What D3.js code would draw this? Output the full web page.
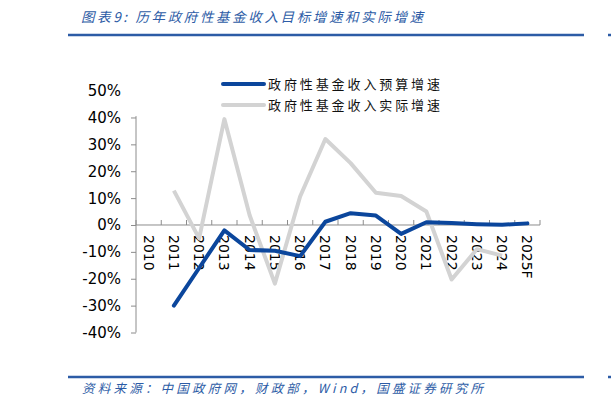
<html>
<head>
<meta charset="utf-8">
<title>历年政府性基金收入目标增速和实际增速</title>
<script src="https://d3js.org/d3.v7.min.js"></script>
<style>
  body { margin: 0; background: #fff; }
</style>
</head>
<body>
<script>
// data (percent)
var years = ["2010","2011","2012","2013","2014","2015","2016","2017","2018","2019","2020","2021","2022","2023","2024","2025F"];
var budgetGrowth = [null, -30, -16, -2, -9.3, -9.6, -11.6, 1.2, 4.4, 3.5, -3.3, 1.0, 0.7, 0.3, 0.1, 0.6];
var actualGrowth = [null, 12.8, -5, 39.4, 3.6, -21.8, 10.6, 32, 23, 12, 10.8, 5, -20.3, -9, -11.4, null];
var yTicks = [-40, -30, -20, -10, 0, 10, 20, 30, 40, 50];
var seriesNames = ["政府性基金收入预算增速", "政府性基金收入实际增速"];

var width = 611, height = 408;
var blue = "#0b469c", grey = "#d3d3d3", axisCol = "#8c8c8c", headBlue = "#2d5ca6";

var svg = d3.select("body").append("svg")
  .attr("width", width).attr("height", height);

// header
svg.append("text")
  .attr("x", 81).attr("y", 22)
  .attr("fill", headBlue)
  .attr("textLength", 342).attr("lengthAdjust", "spacing")
  .style("font-family", "'Noto Sans CJK SC', sans-serif")
  .style("font-size", "13.5px").style("font-style", "italic")
  .text("图表9:  历年政府性基金收入目标增速和实际增速");
svg.append("line").attr("x1", 68).attr("x2", 584).attr("y1", 35).attr("y2", 35)
  .attr("stroke", headBlue).attr("stroke-width", 2.5);
svg.append("line").attr("x1", 608).attr("x2", 611).attr("y1", 35).attr("y2", 35)
  .attr("stroke", headBlue).attr("stroke-width", 2.5);

// footer
svg.append("line").attr("x1", 68).attr("x2", 584).attr("y1", 377).attr("y2", 377)
  .attr("stroke", headBlue).attr("stroke-width", 2.5);
svg.append("line").attr("x1", 608).attr("x2", 611).attr("y1", 377).attr("y2", 377)
  .attr("stroke", headBlue).attr("stroke-width", 2.5);
svg.append("text")
  .attr("x", 82).attr("y", 393)
  .attr("fill", headBlue)
  .attr("textLength", 401).attr("lengthAdjust", "spacing")
  .style("font-family", "'Noto Sans CJK SC', sans-serif")
  .style("font-size", "12.5px").style("font-style", "italic")
  .text("资料来源：中国政府网，财政部，Wind，国盛证券研究所");

// scales
var x = d3.scaleBand().domain(years).range([136, 540]).padding(0);
var y = d3.scaleLinear().domain([-40, 50]).range([332.5, 90.6]);
var cx = function(d, i) { return x(years[i]) + x.bandwidth() / 2; };

// y axis
var yAxis = d3.axisLeft(y)
  .tickValues(yTicks.filter(function(d){ return d <= 40; }))
  .tickSize(5).tickFormat("");
var gy = svg.append("g").attr("transform", "translate(136,0)").call(yAxis);
gy.select(".domain").attr("d", "M0," + y(40.5) + "V" + y(-40));
gy.selectAll("line").attr("stroke", axisCol);
gy.select(".domain").attr("stroke", axisCol);

svg.selectAll(".ylab").data(yTicks).enter().append("text")
  .attr("class", "ylab")
  .attr("x", 121).attr("y", function(d){ return y(d); })
  .attr("dy", "0.36em")
  .attr("text-anchor", "end")
  .style("font-family", "'DejaVu Sans', sans-serif")
  .style("font-size", "15px").attr("fill", "#000")
  .text(function(d){ return d + "%"; });

// x axis at zero
var xAxis = d3.axisBottom(x).tickSize(0).tickFormat("");
var gx = svg.append("g").attr("transform", "translate(0," + y(0) + ")").call(xAxis);
gx.select(".domain").attr("stroke", axisCol).attr("d", "M136,0H540");
var tickPos = years.map(function(d){ return x(d); }).concat([x.range()[1]]);
gx.selectAll(".xt").data(tickPos).enter().append("line")
  .attr("class", "xt")
  .attr("x1", function(d){ return d; }).attr("x2", function(d){ return d; })
  .attr("y1", 0).attr("y2", -5)
  .attr("stroke", axisCol);

svg.selectAll(".xlab").data(years).enter().append("text")
  .attr("class", "xlab")
  .attr("transform", function(d){ return "translate(" + (x(d) + x.bandwidth()/2) + "," + (y(0) + 10) + ") rotate(90)"; })
  .attr("dy", "0.36em")
  .style("font-family", "'DejaVu Sans', sans-serif")
  .style("font-size", "14px").attr("fill", "#000")
  .text(function(d){ return d; });

// lines
var line = d3.line()
  .defined(function(d){ return d != null; })
  .x(cx)
  .y(function(d){ return y(d); });

svg.append("path").datum(actualGrowth)
  .attr("d", line).attr("fill", "none")
  .attr("stroke", grey).attr("stroke-width", 4)
  .attr("stroke-linejoin", "round");
svg.append("path").datum(budgetGrowth)
  .attr("d", line).attr("fill", "none")
  .attr("stroke", blue).attr("stroke-width", 4)
  .attr("stroke-linejoin", "round").attr("stroke-linecap", "round");

// legend
var legColors = [blue, grey];
var leg = svg.selectAll(".leg").data(seriesNames).enter().append("g")
  .attr("class", "leg")
  .attr("transform", function(d, i){ return "translate(223," + (84 + i * 21) + ")"; });
leg.append("line").attr("x1", 0).attr("x2", 41).attr("y1", 0).attr("y2", 0)
  .attr("stroke", function(d, i){ return legColors[i]; })
  .attr("stroke-width", 4).attr("stroke-linecap", "round");
leg.append("text").attr("x", 45).attr("y", 0).attr("dy", "0.36em")
  .style("font-family", "'Noto Sans CJK SC', sans-serif")
  .style("font-size", "13px").style("letter-spacing", "2.9px")
  .attr("fill", "#111")
  .text(function(d){ return d; });
</script>
</body>
</html>
